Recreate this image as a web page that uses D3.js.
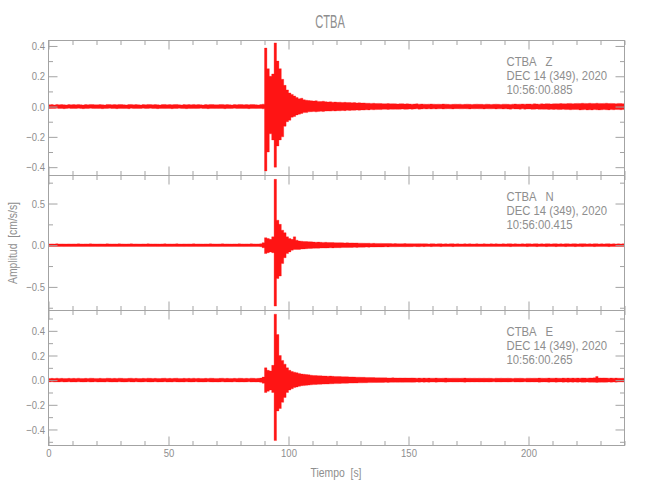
<!DOCTYPE html>
<html><head><meta charset="utf-8">
<script src="https://cdn.jsdelivr.net/npm/d3@7"></script>
<style>
body{margin:0;background:#fff}
</style></head><body>
<svg id="c" width="650" height="500"></svg>
<script>
// ---------------- data ----------------
const title = "CTBA";
const station = "CTBA";
const dateLabel = "DEC 14 (349), 2020";
const xLabel = "Tiempo  [s]";
const yLabel = "Amplitud  [cm/s/s]";
const components = ["Z", "N", "E"];
const startTimes = ["10:56:00.885", "10:56:00.415", "10:56:00.265"];
const xDomain = [0, 240];
const xMajorTicks = [0, 50, 100, 150, 200];
const xMinorStep = 10;
const sampleStart = 0;   // s
const sampleStep = 1;    // s, one envelope bin per second
const yDomainZ = [-0.455, 0.436];
const yDomainN = [-0.783, 0.836];
const yDomainE = [-0.53, 0.565];
const yMajorZ = [-0.4, -0.2, 0.0, 0.2, 0.4];
const yMinorZ = [-0.3, -0.1, 0.1, 0.3];
const yMajorN = [-0.5, 0.0, 0.5];
const yMinorN = [-0.75, -0.25, 0.25, 0.75];
const yMajorE = [-0.4, -0.2, 0.0, 0.2, 0.4];
const yMinorE = [-0.5, -0.3, -0.1, 0.1, 0.3, 0.5];

// envelope, per 1-s bin, in 0.001 cm/s/s
const zHi = [12,13,11,14,12,13,12,11,13,12, 13,12,14,12,11,13,12,14,13,12, 12,13,12,11,14,13,12,13,12,14,
 13,12,11,13,14,12,13,12,11,13, 12,14,13,12,13,12,11,13,14,12, 13,12,13,14,12,11,13,12,13,12,
 14,12,13,12,11,13,12,14,13,12, 12,13,14,12,13,12,11,13,12,14, 13,12,13,12,14,13,12,11,13,16,
 386,250,200,215,420,300,250,180,140,110, 90,80,70,60,52,55,45,42,40,38, 36,38,34,33,35,32,30,31,29,30,
 28,29,27,28,26,27,25,26,24,25, 23,24,22,22,21,22,20,21,20,19, 19,20,18,19,18,17,18,19,17,18,
 17,16,17,18,16,17,16,15,16,17, 16,15,16,15,17,16,15,14,15,16, 15,16,14,15,16,15,14,15,16,15,
 15,14,16,15,14,15,16,15,14,16, 16,15,14,16,17,15,16,17,16,17, 17,16,18,17,16,18,17,19,18,17,
 18,19,18,20,19,18,20,21,19,20, 21,20,22,21,20,22,21,20,22,21, 20,21,22,20,21,20,19,21,20,19, 18];
const zLo = [-13,-12,-12,-11,-13,-12,-14,-12,-11,-13, -12,-13,-11,-12,-14,-12,-13,-11,-12,-13, -13,-12,-14,-12,-12,-11,-13,-12,-14,-12,
 -12,-13,-12,-14,-11,-13,-12,-13,-12,-11, -13,-12,-11,-13,-12,-14,-12,-12,-13,-12, -12,-14,-12,-13,-11,-12,-13,-14,-12,-13,
 -12,-13,-12,-11,-13,-12,-14,-12,-12,-13, -13,-12,-12,-14,-12,-13,-12,-11,-13,-12, -12,-13,-12,-14,-12,-12,-13,-12,-12,-15,
 -425,-300,-180,-220,-400,-260,-220,-200,-130,-100, -90,-70,-65,-55,-50,-45,-40,-40,-35,-34, -33,-35,-32,-31,-33,-30,-29,-30,-28,-29,
 -27,-28,-26,-27,-25,-26,-24,-25,-23,-24, -22,-23,-21,-22,-20,-21,-20,-19,-20,-18, -18,-19,-17,-18,-17,-18,-17,-16,-18,-17,
 -16,-17,-16,-15,-17,-16,-15,-16,-15,-16, -15,-16,-15,-14,-16,-15,-14,-15,-16,-14, -14,-15,-15,-14,-15,-16,-14,-15,-14,-15,
 -15,-16,-14,-15,-15,-14,-16,-15,-15,-16, -15,-16,-17,-15,-16,-16,-17,-15,-17,-16, -16,-18,-17,-16,-18,-17,-18,-17,-19,-18,
 -19,-18,-20,-19,-18,-20,-19,-21,-20,-19, -20,-22,-21,-20,-22,-21,-22,-20,-21,-22, -21,-20,-21,-22,-20,-21,-19,-20,-21,-20, -19];
const nHi = [15,16,14,17,15,16,15,14,16,15, 16,15,17,15,14,16,15,17,16,15, 15,16,15,14,17,16,15,16,15,17,
 16,15,14,16,17,15,16,15,14,16, 15,17,16,15,16,15,14,16,17,15, 16,15,16,17,15,14,16,15,16,15,
 17,15,16,15,14,16,15,17,16,15, 15,16,17,15,16,15,14,16,15,17, 16,15,16,15,17,16,15,16,18,30,
 90,80,70,100,790,300,250,180,150,100, 80,70,100,60,50,48,45,44,42,40, 38,36,37,35,34,35,33,32,33,31,
 30,31,29,28,29,27,28,26,27,25, 25,24,23,24,22,23,22,21,22,21, 20,21,20,19,20,19,18,19,20,18,
 19,18,17,18,19,17,18,17,16,18, 17,16,17,18,16,17,16,17,18,16, 17,16,15,17,16,17,16,15,17,16,
 16,17,16,15,17,16,17,16,15,17, 16,17,18,16,17,16,15,17,16,18, 17,16,17,18,16,17,16,18,17,16,
 17,18,16,17,16,18,17,16,17,18, 16,17,18,17,16,17,16,18,17,16, 17,16,17,18,16,17,16,17,16,17, 16];
const nLo = [-15,-14,-16,-15,-15,-14,-16,-15,-14,-16, -15,-16,-14,-15,-16,-15,-14,-16,-15,-14, -16,-15,-15,-16,-14,-15,-16,-15,-16,-14,
 -15,-16,-15,-14,-15,-16,-14,-15,-16,-15, -14,-15,-16,-15,-14,-16,-15,-15,-14,-16, -15,-16,-14,-15,-16,-15,-16,-14,-15,-16,
 -15,-14,-16,-15,-16,-15,-14,-15,-16,-15, -16,-15,-14,-16,-15,-15,-16,-14,-15,-16, -15,-16,-15,-14,-16,-15,-16,-15,-18,-30,
 -100,-90,-80,-90,-730,-400,-370,-220,-150,-100, -80,-60,-50,-50,-50,-46,-44,-42,-40,-38, -37,-35,-36,-34,-33,-34,-32,-31,-32,-30,
 -29,-30,-28,-27,-28,-26,-27,-25,-26,-24, -24,-23,-22,-23,-21,-22,-21,-20,-21,-20, -19,-20,-19,-18,-19,-18,-17,-18,-19,-17,
 -18,-17,-16,-17,-18,-16,-17,-16,-15,-17, -16,-15,-16,-17,-15,-16,-15,-16,-17,-15, -16,-15,-14,-16,-15,-16,-15,-14,-16,-15,
 -15,-16,-15,-14,-16,-15,-16,-15,-14,-16, -15,-16,-17,-15,-16,-15,-14,-16,-15,-17, -16,-15,-16,-17,-15,-16,-15,-17,-16,-15,
 -16,-17,-15,-16,-15,-17,-16,-15,-16,-17, -15,-16,-17,-16,-15,-16,-15,-17,-16,-15, -16,-15,-16,-17,-15,-16,-15,-16,-15,-16, -15];
const eHi = [14,15,13,16,14,15,14,13,15,14, 15,14,16,14,13,15,14,16,15,14, 14,15,14,13,16,15,14,15,14,16,
 15,14,13,15,16,14,15,14,13,15, 14,16,15,14,15,14,13,15,16,14, 15,14,15,16,14,13,15,14,15,14,
 16,14,15,14,13,15,14,16,15,14, 14,15,16,14,15,14,13,15,14,16, 15,14,15,14,16,15,14,15,17,25,
 100,80,75,120,535,370,200,160,130,100, 80,70,65,60,55,50,48,45,43,40, 38,37,36,35,34,33,32,33,31,30,
 30,29,28,28,27,26,26,25,24,24, 23,23,22,22,21,21,20,20,19,19, 19,18,18,19,18,17,18,17,18,17,
 17,18,17,16,17,16,17,16,17,16, 16,17,16,15,16,17,16,15,16,16, 16,15,16,17,15,16,15,16,15,16,
 15,16,15,16,15,14,16,15,16,15, 15,16,15,14,16,15,16,15,14,16, 16,15,16,15,17,16,15,16,17,16,
 16,17,16,15,17,16,17,16,17,16, 17,16,18,17,16,18,17,19,30,18, 17,18,17,16,17,16,17,16,15,16, 15];
const eLo = [-14,-13,-15,-14,-14,-13,-15,-14,-13,-15, -14,-15,-13,-14,-15,-14,-13,-15,-14,-13, -15,-14,-14,-15,-13,-14,-15,-14,-15,-13,
 -14,-15,-14,-13,-14,-15,-13,-14,-15,-14, -13,-14,-15,-14,-13,-15,-14,-14,-13,-15, -14,-15,-13,-14,-15,-14,-15,-13,-14,-15,
 -14,-13,-15,-14,-15,-14,-13,-14,-15,-14, -15,-14,-13,-15,-14,-14,-15,-13,-14,-15, -14,-15,-14,-13,-15,-14,-15,-14,-17,-25,
 -100,-90,-80,-100,-490,-250,-230,-180,-140,-100, -80,-70,-60,-55,-50,-45,-44,-42,-40,-38, -36,-35,-34,-33,-32,-31,-31,-30,-29,-28,
 -28,-27,-26,-26,-25,-24,-24,-23,-23,-22, -22,-21,-21,-20,-20,-19,-19,-18,-18,-18, -17,-18,-17,-17,-16,-17,-16,-17,-16,-16,
 -16,-17,-16,-15,-16,-15,-16,-15,-16,-15, -15,-16,-15,-14,-15,-16,-15,-14,-15,-15, -15,-14,-15,-16,-14,-15,-14,-15,-14,-15,
 -14,-15,-14,-15,-14,-13,-15,-14,-15,-14, -14,-15,-14,-13,-15,-14,-15,-14,-13,-15, -15,-14,-15,-14,-16,-15,-14,-15,-16,-15,
 -15,-16,-15,-14,-16,-15,-16,-15,-16,-15, -16,-15,-17,-16,-15,-17,-16,-17,-18,-17, -16,-17,-16,-15,-16,-15,-16,-15,-14,-15, -14];

// ---------------- drawing ----------------
const panels = [
  {comp: components[0], time: startTimes[0], hi: zHi, lo: zLo, yDomain: yDomainZ, major: yMajorZ, minor: yMinorZ},
  {comp: components[1], time: startTimes[1], hi: nHi, lo: nLo, yDomain: yDomainN, major: yMajorN, minor: yMinorN},
  {comp: components[2], time: startTimes[2], hi: eHi, lo: eLo, yDomain: yDomainE, major: yMajorE, minor: yMinorE}
];
const FONT = '"Liberation Sans",Arial,sans-serif';
const lineCol = "#a3a3a3", textCol = "#8e8e8e", waveCol = "#ff0000";
const svg = d3.select("#c");
const L = 48.5, R = 624.5, T = 40.5, B = 445.5;
const pH = (B - T) / 3;
const x = d3.scaleLinear().domain(xDomain).range([L, R]);
const xMinor = d3.range(xDomain[0], xDomain[1] + 0.001, xMinorStep).filter(v => !xMajorTicks.includes(v));
const fmt = d3.format(".1f");

// horizontally condense text (the reference uses a narrow stroke font)
function condense(sel, f) {
  sel.each(function () {
    const t = d3.select(this);
    const tx = t.select("tspan").empty() ? (+t.attr("x") || 0) : +t.select("tspan").attr("x");
    const base = t.attr("transform") || "";
    t.attr("transform", `${base} translate(${tx},0) scale(${f},1) translate(${-tx},0)`);
  });
}

function styleAxis(g) {
  g.attr("font-family", FONT).attr("font-size", 11.6).style("color", lineCol);
  g.selectAll("text").attr("fill", textCol).call(condense, 0.82);
  g.select(".domain").remove();
}

panels.forEach((p, k) => {
  const y0 = T + k * pH, y1 = y0 + pH;
  const y = d3.scaleLinear().domain(p.yDomain).range([y1, y0]);
  const clipId = "clip" + k;
  svg.append("clipPath").attr("id", clipId).append("rect")
    .attr("x", L).attr("y", y0).attr("width", R - L).attr("height", pH);

  // waveform envelope: filled band between per-bin max and min
  const bins = p.hi.map((h, i) => ({t: sampleStart + i * sampleStep, hi: h / 1000, lo: p.lo[i] / 1000}));
  svg.append("path")
    .attr("clip-path", `url(#${clipId})`)
    .attr("d", d3.area().curve(d3.curveStepAfter).x(d => x(d.t)).y0(d => y(d.lo)).y1(d => y(d.hi))(bins))
    .attr("fill", waveCol).attr("fill-opacity", 0.92)
    .attr("stroke", waveCol).attr("stroke-width", 0.5).attr("stroke-opacity", 0.6);

  // left axis
  svg.append("g").attr("transform", `translate(${L},0)`)
    .call(d3.axisLeft(y).tickValues(p.major).tickSize(-9).tickPadding(3.5).tickFormat(fmt)).call(styleAxis);
  svg.append("g").attr("transform", `translate(${L},0)`)
    .call(d3.axisLeft(y).tickValues(p.minor).tickSize(-4.5).tickFormat("")).call(styleAxis);
  // right axis
  svg.append("g").attr("transform", `translate(${R},0)`)
    .call(d3.axisRight(y).tickValues(p.major).tickSize(-9).tickFormat("")).call(styleAxis);
  svg.append("g").attr("transform", `translate(${R},0)`)
    .call(d3.axisRight(y).tickValues(p.minor).tickSize(-4.5).tickFormat("")).call(styleAxis);
  // top axis
  svg.append("g").attr("transform", `translate(0,${y0})`)
    .call(d3.axisTop(x).tickValues(xMajorTicks).tickSize(-9).tickFormat("")).call(styleAxis);
  svg.append("g").attr("transform", `translate(0,${y0})`)
    .call(d3.axisTop(x).tickValues(xMinor).tickSize(-4.5).tickFormat("")).call(styleAxis);
  // bottom axis
  const last = k === panels.length - 1;
  svg.append("g").attr("transform", `translate(0,${y1})`)
    .call(d3.axisBottom(x).tickValues(xMajorTicks).tickSize(-9).tickPadding(3.5)
      .tickFormat(last ? d3.format("d") : "")).call(styleAxis);
  svg.append("g").attr("transform", `translate(0,${y1})`)
    .call(d3.axisBottom(x).tickValues(xMinor).tickSize(-4.5).tickFormat("")).call(styleAxis);

  // frame
  svg.append("rect").attr("x", L).attr("y", y0).attr("width", R - L).attr("height", pH)
    .attr("fill", "none").attr("stroke", lineCol).attr("stroke-width", 1);

  // annotation
  const ann = svg.append("text").attr("font-family", FONT).attr("font-size", 13).attr("fill", textCol)
    .style("white-space", "pre");
  [station + "   " + p.comp, dateLabel, p.time].forEach((s, j) => {
    ann.append("tspan").attr("x", 506.5).attr("y", y0 + 25.5 + j * 14.2).text(s);
  });
  ann.call(condense, 0.87);
});

svg.append("text").attr("x", 330).attr("y", 28).attr("text-anchor", "middle")
  .attr("font-family", FONT).attr("font-size", 18.5).attr("fill", textCol).text(title).call(condense, 0.6);
svg.append("text").attr("x", 336).attr("y", 477).attr("text-anchor", "middle")
  .attr("font-family", FONT).attr("font-size", 13).attr("fill", textCol).style("white-space", "pre").text(xLabel).call(condense, 0.8);
svg.append("text").attr("transform", `translate(16.5,243) rotate(-90)`).attr("text-anchor", "middle")
  .attr("font-family", FONT).attr("font-size", 13).attr("fill", textCol).style("white-space", "pre").text(yLabel).call(condense, 0.8);
</script>
</body></html>
